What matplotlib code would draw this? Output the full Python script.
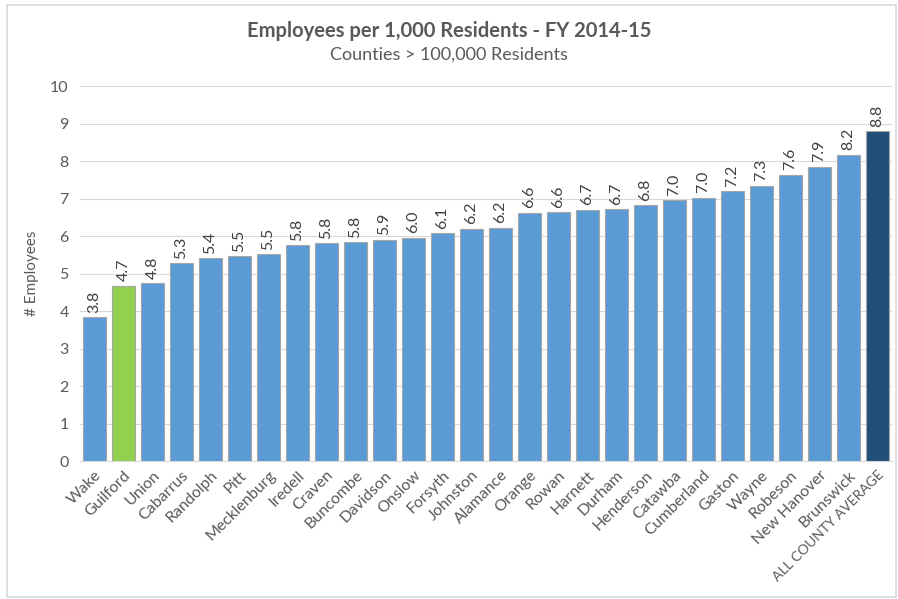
import matplotlib.pyplot as plt
from matplotlib.patches import Rectangle

counties = ["Wake", "Guilford", "Union", "Cabarrus", "Randolph", "Pitt", "Mecklenburg",
            "Iredell", "Craven", "Buncombe", "Davidson", "Onslow", "Forsyth", "Johnston",
            "Alamance", "Orange", "Rowan", "Harnett", "Durham", "Henderson", "Catawba",
            "Cumberland", "Gaston", "Wayne", "Robeson", "New Hanover", "Brunswick",
            "ALL COUNTY AVERAGE"]
employees = [3.84, 4.68, 4.75, 5.28, 5.41, 5.46, 5.52, 5.76, 5.81, 5.84, 5.90, 5.96,
             6.08, 6.20, 6.22, 6.62, 6.64, 6.70, 6.72, 6.82, 6.96, 7.02, 7.20, 7.34,
             7.64, 7.86, 8.18, 8.80]

highlight = "Guilford"
average = "ALL COUNTY AVERAGE"

plt.rcParams['font.family'] = ['Lato', 'DejaVu Sans']
grey = '#595959'

fig = plt.figure(figsize=(8.98, 5.99), dpi=100)
ax = fig.add_axes([0.089, 0.230, 0.904, 0.626])

colors = []
for c in counties:
    if c == highlight:
        colors.append('#92D050')
    elif c == average:
        colors.append('#1F4E79')
    else:
        colors.append('#5B9BD5')

x = range(len(counties))
bars = ax.bar(x, employees, width=0.8, color=colors, edgecolor='#a6a6a6', linewidth=0.8, zorder=3)

for bar, v in zip(bars, employees):
    ax.text(bar.get_x() + bar.get_width() / 2, v + 0.12, f'{v:.1f}',
            rotation=90, ha='center', va='bottom', fontsize=11.5, color='#404040')

ax.set_xlim(-0.5, len(counties) - 0.5)
ax.set_ylim(0, 10)
ax.set_yticks(range(0, 11))
ax.yaxis.grid(True, color='#d9d9d9', linewidth=0.8, zorder=0)
ax.set_axisbelow(True)
for s in ['top', 'right', 'left']:
    ax.spines[s].set_visible(False)
ax.spines['bottom'].set_color('#d9d9d9')
ax.tick_params(axis='both', length=0, colors=grey, labelsize=11.5)
ax.tick_params(axis='y', pad=8)
ax.set_xticks(list(x))
ax.set_xticklabels(counties, rotation=45, ha='right', rotation_mode='anchor')
ax.tick_params(axis='x', pad=5)
# the all-caps label runs long in this font; shrink it a little so it fits
for lbl in ax.get_xticklabels():
    if lbl.get_text() == average:
        lbl.set_fontsize(10)
ax.set_ylabel('# Employees', color=grey, fontsize=11, labelpad=8)

fig.text(0.5, 0.948, 'Employees per 1,000 Residents - FY 2014-15', ha='center', va='center',
         fontsize=14.5, fontweight='bold', color=grey)
fig.text(0.5, 0.908, 'Counties > 100,000 Residents', ha='center', va='center',
         fontsize=13, color=grey)

fig.patches.append(Rectangle((0.008, 0.004), 0.99, 0.988, transform=fig.transFigure,
                             fill=False, edgecolor='#d9d9d9', linewidth=1.2))

fig.savefig('out.png', dpi=100)
plt.close(fig)
